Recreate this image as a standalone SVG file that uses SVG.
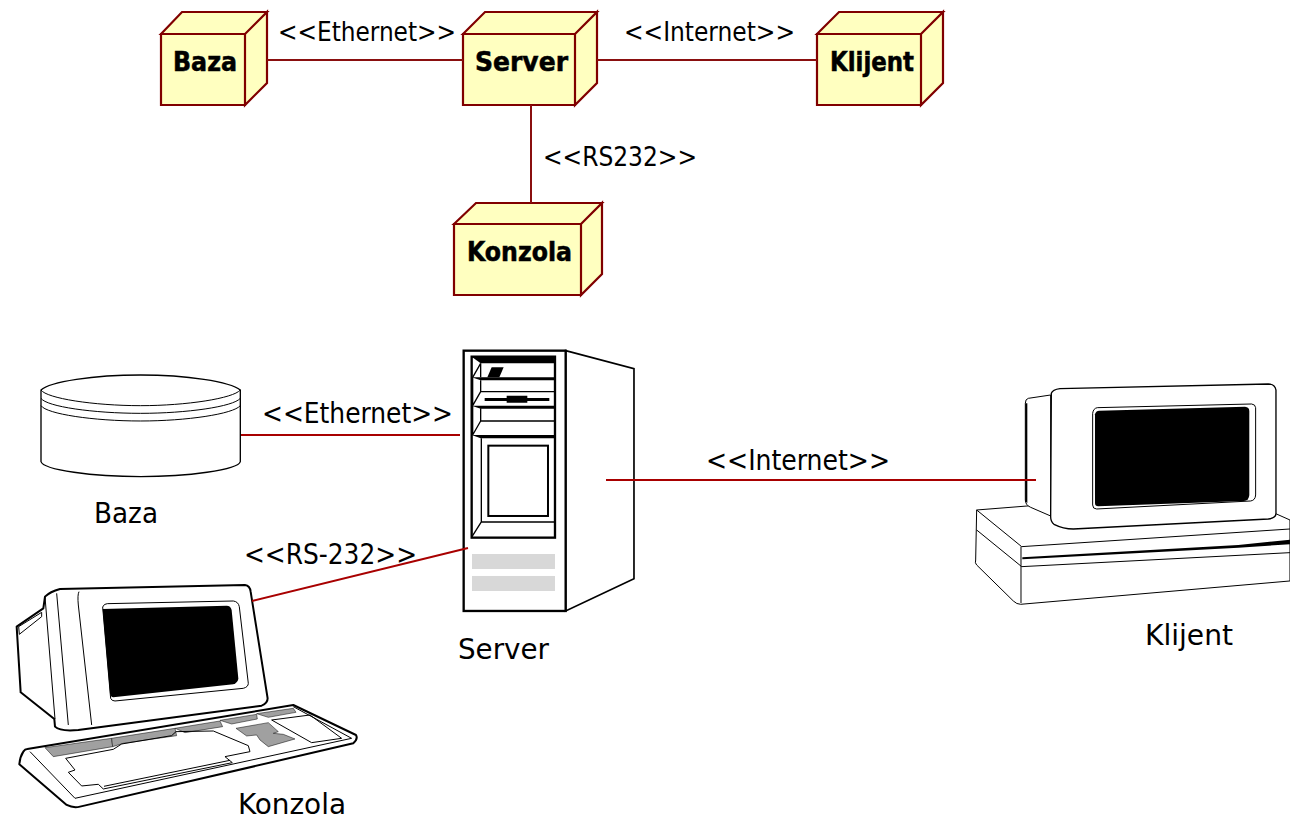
<svg xmlns="http://www.w3.org/2000/svg" width="1290" height="819" viewBox="0 0 1290 819">
<style>
text{font-family:"DejaVu Sans Condensed","DejaVu Sans","Liberation Sans",sans-serif;fill:#000}
.u{font-size:26px;font-stretch:condensed}
.l{font-size:28px;font-stretch:condensed}
.b{font-size:26px;font-weight:bold;font-stretch:condensed;stroke:#000;stroke-width:.5}
.n{fill:#ffffc0;stroke:#800000;stroke-width:2.2;stroke-linejoin:miter}
.c{fill:none;stroke:#8a0f0f;stroke-width:2}
.r{fill:none;stroke:#a80000;stroke-width:2}
.k{fill:#fff;stroke:#000;stroke-width:4;stroke-linejoin:round}
.t{fill:none;stroke:#000;stroke-width:3;stroke-linejoin:round}
.f{fill:#000;stroke:none}
.g{fill:#a0a0a0;stroke:#000;stroke-width:1.5}
</style>
<g id="uml-baza"><path class="n" d="M161 34H245V105H161ZM161 34L182 12H267L245 34ZM245 34L267 12V83L245 105Z"/><text class="b" x="173" y="71" textLength="64" lengthAdjust="spacingAndGlyphs">Baza</text></g>
<g id="uml-server"><path class="n" d="M463 34H575V105H463ZM463 34L485 12H597L575 34ZM575 34L597 12V83L575 105Z"/><text class="b" x="475" y="71" textLength="93" lengthAdjust="spacingAndGlyphs">Server</text></g>
<g id="uml-klijent"><path class="n" d="M817 34H921V105H817ZM817 34L839 12H943L921 34ZM921 34L943 12V83L921 105Z"/><text class="b" x="830" y="71" textLength="84" lengthAdjust="spacingAndGlyphs">Klijent</text></g>
<g id="uml-konzola"><path class="n" d="M454 224H581V295H454ZM454 224L476 203H602L581 224ZM581 224L602 203V274L581 295Z"/><text class="b" x="467" y="261" textLength="105" lengthAdjust="spacingAndGlyphs">Konzola</text></g>

<g id="baza" transform="translate(30 365) scale(.3333)">
<path class="k" d="M33 75C60 50 190 30 332 30C470 30 600 50 631 75V290C625 315 470 335 332 335C190 335 40 315 33 290Z"/>
<path class="t" d="M33 75C50 100 190 122 332 122C470 122 610 100 631 75M33 100C50 125 190 145 332 145C470 145 610 125 631 100M33 122C50 147 190 168 332 168C470 168 610 147 631 122"/>
</g>
<text x="94" y="523" class="l" textLength="64" lengthAdjust="spacingAndGlyphs">Baza</text>

<g id="server" transform="translate(450 340) scale(.3333)">
<path class="k" style="stroke-width:5;stroke-linejoin:miter" d="M347 32L552 86V716L347 813Z"/>
<rect class="k" style="stroke-width:7;stroke-linejoin:miter" x="41" y="32" width="306" height="781"/>
<rect class="k" style="stroke-width:7;stroke-linejoin:miter" x="65" y="50" width="250" height="543"/>
<path class="f" d="M65 50H316V70H92Z"/>
<path class="f" d="M125 82H161L148 112H112Z"/>
<path class="t" style="stroke-width:4" d="M92 70L68 112M92 70V112M92 121V155M68 112V197M92 155H315M92 155L68 197M92 205V243M92 243H315M92 243L68 285M68 198V285"/>
<path class="f" d="M65 112H316V121H92ZM65 197H316V206H92ZM65 285H316V295H92ZM170 167H232V188H170ZM104 174H298V183H104Z"/>
<path class="t" style="stroke-width:4" d="M94 295V546M94 546H315M94 546L66 590"/>
<rect class="k" style="stroke-linejoin:miter;stroke-width:6" x="115" y="317" width="179" height="211"/>
<rect x="66" y="642" width="249" height="45" fill="#d8d8d8"/>
<rect x="66" y="708" width="249" height="45" fill="#d8d8d8"/>
</g>
<text x="458" y="659" class="l" textLength="91" lengthAdjust="spacingAndGlyphs">Server</text>

<g id="klijent" transform="translate(960 375) scale(.3333)">
<path class="k" style="stroke-width:3" d="M50 405L215 392L945 415L990 435V618L182 688Q170 688 160 678L50 570Q44 564 47 555Z"/>
<path class="t" d="M50 405L185 515L990 462M50 465L185 575L990 533M183 515V684"/>
<path class="f" d="M187 547L835 510L990 494V508L835 518L187 553Z"/>
<path class="k" style="stroke-width:3" d="M272 60L205 70Q196 72 196 85V375Q196 390 212 397L272 423Z"/>
<path class="f" d="M196 85H202V385L196 378Z"/>
<path class="k" d="M274 55Q278 44 300 41L925 27Q945 27 948 45V415Q948 430 925 432L340 462Q310 462 282 448Q272 440 272 425Z"/>
<path class="t" d="M398 115Q400 100 412 98L875 87Q886 88 887 98L887 360Q886 376 872 378L410 402Q398 402 398 390Z"/>
<path class="f" d="M405 118Q407 108 418 107L855 95Q868 96 868 108V360Q867 376 852 378L415 394Q405 394 405 384Z"/>
</g>
<text x="1145" y="645" class="l" textLength="88" lengthAdjust="spacingAndGlyphs">Klijent</text>

<g id="konzola" transform="translate(0 575) scale(.3333)">
<path class="k" style="stroke-width:6" d="M82 522L880 390L1068 480Q1075 492 1060 505L240 695Q220 700 200 690L58 568Q60 545 70 530Q75 522 82 522Z"/>
<path class="t" d="M90 530L225 670L1055 490L880 395"/>
<path class="g" d="M135 518L335 490L338 515L160 545Z"/>
<path class="g" d="M335 490L525 460L530 482L370 505L338 515Z"/>
<path class="g" d="M525 460L660 438L668 455L555 473L530 462Z"/>
<path class="g" d="M660 436L770 418L772 432L695 447Z"/>
<path class="g" d="M770 416L880 400L888 412L805 427Z"/>
<path class="g" d="M708 460L805 443L835 470L820 475L850 478L885 492L805 515L780 495L770 480L740 483Z"/>
<path class="t" d="M197 550L340 523L365 507L515 482L528 470L640 468L745 512L750 530L675 545L697 563L310 642L295 628L245 633L205 592L225 585Z"/>
<path class="t" d="M312 634L690 556"/>
<path class="t" d="M815 435L930 420L1025 490L935 503Z"/>
<path class="k" style="stroke-width:6" d="M50 155L130 100L135 65Q150 50 180 42L735 30Q750 32 752 50L803 370Q803 385 785 392L235 465Q180 470 165 455L163 432L62 352Z"/>
<path class="t" d="M135 65L165 432M170 55L205 450M237 50Q232 60 235 90L275 450"/>
<path class="t" d="M56 155L125 112V125L58 178Z"/>
<path class="t" d="M308 96Q312 86 322 86L700 78Q715 80 718 95L745 325Q745 336 730 340L345 378Q335 378 332 370Z"/>
<path class="f" d="M308 102L680 92Q692 92 695 105L715 310Q715 322 700 328L340 367Q332 367 330 355Z"/>
</g>
<text x="238" y="814" class="l" textLength="108" lengthAdjust="spacingAndGlyphs">Konzola</text>

<g id="connectors">
<path class="c" d="M267 60H463M597 60H817M531 105V203"/>
<path class="r" d="M241 435H460M606 480H1036M252 601L468 548"/>
</g>
<g id="connector-labels">
<text class="u" x="278" y="41" textLength="178" lengthAdjust="spacingAndGlyphs">&lt;&lt;Ethernet&gt;&gt;</text>
<text class="u" x="624" y="41" textLength="171" lengthAdjust="spacingAndGlyphs">&lt;&lt;Internet&gt;&gt;</text>
<text class="u" x="543" y="166" textLength="154" lengthAdjust="spacingAndGlyphs">&lt;&lt;RS232&gt;&gt;</text>
<text class="l" x="262" y="423" textLength="191" lengthAdjust="spacingAndGlyphs">&lt;&lt;Ethernet&gt;&gt;</text>
<text class="l" x="706" y="470" textLength="184" lengthAdjust="spacingAndGlyphs">&lt;&lt;Internet&gt;&gt;</text>
<text class="l" x="244" y="564" textLength="173" lengthAdjust="spacingAndGlyphs">&lt;&lt;RS-232&gt;&gt;</text>
</g>
</svg>
